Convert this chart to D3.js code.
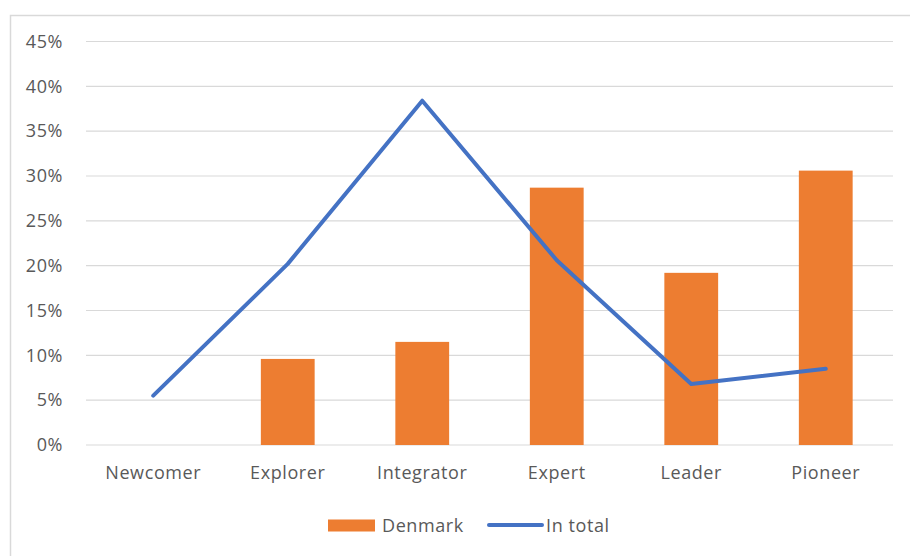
<!DOCTYPE html>
<html>
<head>
  <meta charset="utf-8">
  <script src="https://d3js.org/d3.v7.min.js"></script>
<style>
  body { margin: 0; background: #fff; }
  text { font-family: "Open Sans", sans-serif; fill: #595959; font-size: 18px; letter-spacing: 0.6px; }
</style>
</head>
<body>
<script>
  // chart values
  var levels = ["Newcomer", "Explorer", "Integrator", "Expert", "Leader", "Pioneer"];
  var denmark = [0, 9.6, 11.5, 28.7, 19.2, 30.6];
  var inTotal = [5.5, 20.2, 38.4, 20.6, 6.8, 8.5];
  var yTicks = [0, 5, 10, 15, 20, 25, 30, 35, 40, 45];

  var width = 910, height = 556;
  var plotLeft = 86, plotRight = 893, plotTop = 41.5, plotBottom = 445;

  var svg = d3.select("body").append("svg")
      .attr("width", width)
      .attr("height", height);

  // chart frame
  svg.append("rect")
      .attr("x", 10.5).attr("y", 15.5)
      .attr("width", 920).attr("height", 600)
      .style("fill", "none")
      .style("stroke", "#d9d9d9")
      .style("stroke-width", 1.5);

  var x = d3.scaleBand().domain(levels).range([plotLeft, plotRight]);
  var y = d3.scaleLinear().domain([0, 45]).range([plotBottom, plotTop]);

  // gridlines
  svg.selectAll(".grid")
      .data(yTicks)
      .enter().append("line")
      .attr("x1", plotLeft).attr("x2", plotRight)
      .attr("y1", function (d) { return y(d); })
      .attr("y2", function (d) { return y(d); })
      .style("stroke", "#d9d9d9")
      .style("stroke-width", 1.2);

  // y axis labels
  var yAxis = d3.axisLeft(y).tickValues(yTicks)
      .tickFormat(function (d) { return d + "%"; })
      .tickSize(0).tickPadding(23);
  var ga = svg.append("g").attr("transform", "translate(" + plotLeft + ",0)").call(yAxis);
  ga.select(".domain").remove();
  ga.attr("font-size", null).attr("font-family", null);
  ga.selectAll("text").style("fill", "#595959");

  // x axis labels
  var xAxis = d3.axisBottom(x).tickSize(0).tickPadding(21);
  var gx = svg.append("g").attr("transform", "translate(0," + plotBottom + ")").call(xAxis);
  gx.select(".domain").remove();
  gx.attr("font-size", null).attr("font-family", null);
  gx.selectAll("text").style("fill", "#595959");

  // bars (gap width 150%)
  var bw = x.bandwidth() / 2.5;
  svg.selectAll(".bar")
      .data(denmark)
      .enter().append("rect")
      .attr("x", function (d, i) { return x(levels[i]) + x.bandwidth() / 2 - bw / 2; })
      .attr("y", function (d) { return y(d); })
      .attr("width", bw)
      .attr("height", function (d) { return plotBottom - y(d); })
      .style("fill", "#ed7d31");

  // line
  var line = d3.line()
      .x(function (d, i) { return x(levels[i]) + x.bandwidth() / 2; })
      .y(function (d) { return y(d); });
  svg.append("path")
      .datum(inTotal)
      .attr("d", line)
      .style("fill", "none")
      .style("stroke", "#4472c4")
      .style("stroke-width", 4)
      .style("stroke-linecap", "round")
      .style("stroke-linejoin", "round");

  // legend
  var lg = svg.append("g");
  lg.append("rect")
      .attr("x", 328).attr("y", 519.5)
      .attr("width", 47).attr("height", 12)
      .style("fill", "#ed7d31");
  lg.append("text")
      .attr("x", 382).attr("y", 531.5)
      .text("Denmark");
  lg.append("line")
      .attr("x1", 489).attr("x2", 542)
      .attr("y1", 525).attr("y2", 525)
      .style("stroke", "#4472c4")
      .style("stroke-width", 4)
      .style("stroke-linecap", "round");
  lg.append("text")
      .attr("x", 546).attr("y", 531.5)
      .text("In total");
</script>
</body>
</html>
